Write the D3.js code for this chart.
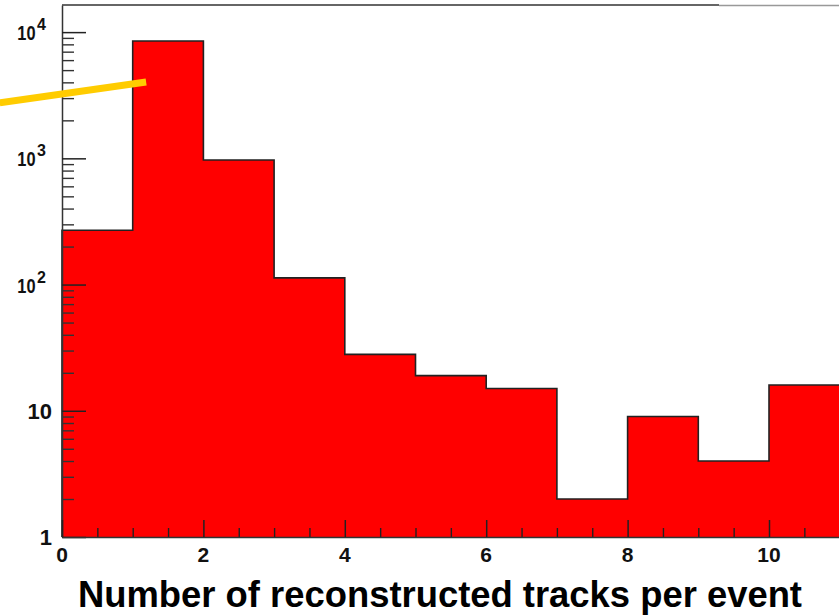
<!DOCTYPE html>
<html>
<head>
<meta charset="utf-8">
<script src="https://cdn.jsdelivr.net/npm/d3@7"></script>
<style>
  body { margin: 0; background: #fff; }
  text { font-family: "Liberation Sans", Arial, sans-serif; font-weight: bold; }
</style>
</head>
<body>
<script>
// histogram bins (lower edges) and counts
const binEdges = [0, 1, 2, 3, 4, 5, 6, 7, 8, 9, 10, 11];
const counts = [269, 8510, 971, 113, 28, 19, 15, 2, 9, 4, 16];
const xMajorTicks = [0, 2, 4, 6, 8, 10];
const yDecades = [1, 10, 100, 1000, 10000];
const yLabels = ['1', '10', '10|2', '10|3', '10|4'];
// yellow pointer drawn over the plot (data units)
const pointerX = [-0.88, 1.19];
const pointerY = [2750, 4030];

const W = 839, H = 615;
const mLeft = 62, mRight = 839.7, mTop = 5, mBottom = 537;

const x = d3.scaleLinear().domain([0, 11]).range([mLeft, mRight]);
const y = d3.scaleLog().domain([1, 16400]).range([mBottom, mTop]);

const svg = d3.select('body').append('svg')
  .attr('width', W).attr('height', H);

// filled histogram
const pts = counts.map((c, i) => ({ x: binEdges[i], c }));
pts.push({ x: binEdges[binEdges.length - 1], c: counts[counts.length - 1] });

const area = d3.area()
  .curve(d3.curveStepAfter)
  .x(d => x(d.x))
  .y0(y(1))
  .y1(d => y(d.c));

svg.append('path')
  .datum(pts)
  .attr('d', area)
  .attr('fill', '#ff0000');

// outline of histogram
const outline = [{ x: 0, c: 1 }].concat(pts);
svg.append('path')
  .datum(outline)
  .attr('d', d3.line().curve(d3.curveStepAfter).x(d => x(d.x)).y(d => y(d.c)))
  .attr('fill', 'none')
  .attr('stroke', '#222')
  .attr('stroke-width', 1.6);

// frame top
svg.append('line')
  .attr('x1', mLeft).attr('x2', 719).attr('y1', mTop).attr('y2', mTop)
  .attr('stroke', '#333').attr('stroke-width', 1.5);
svg.append('line')
  .attr('x1', 719).attr('x2', W).attr('y1', mTop + 0.5).attr('y2', mTop + 0.5)
  .attr('stroke', '#999').attr('stroke-width', 1.5);

// y axis: minor ticks
const minor = [];
yDecades.slice(0, -1).forEach(d => {
  for (let k = 2; k <= 9; k++) minor.push(d * k);
});
svg.append('g')
  .attr('transform', `translate(${mLeft},0)`)
  .call(d3.axisLeft(y).tickValues(minor).tickSize(-12).tickFormat(''))
  .call(g => g.select('.domain').remove())
  .selectAll('line').attr('stroke', '#333').attr('stroke-width', 1.4);

// y axis: major ticks and line
const yAxis = svg.append('g')
  .attr('transform', `translate(${mLeft},0)`)
  .call(d3.axisLeft(y).tickValues(yDecades).tickSize(-24).tickSizeOuter(0).tickFormat(''));
yAxis.select('.domain').attr('stroke', '#333').attr('stroke-width', 1.5);
yAxis.selectAll('line').attr('stroke', '#222').attr('stroke-width', 1.5);

// y labels, powers drawn as a narrowed base plus superscript
yDecades.forEach((v, i) => {
  const [base, exp] = yLabels[i].split('|');
  if (!exp) {
    svg.append('text')
      .attr('x', 52)
      .attr('y', y(v) + 8)
      .attr('text-anchor', 'end')
      .attr('font-size', 22)
      .attr('fill', '#111')
      .text(base);
  } else {
    svg.append('text')
      .attr('transform', `translate(35.5,${y(v) + 8}) scale(0.78,1)`)
      .attr('text-anchor', 'end')
      .attr('font-size', 21)
      .attr('fill', '#111')
      .text(base);
    svg.append('text')
      .attr('x', 37)
      .attr('y', y(v) - 2)
      .attr('font-size', 16)
      .attr('fill', '#111')
      .text(exp);
  }
});

// x axis: minor ticks
const xMinor = d3.range(0, 11.01, 0.5).filter(v => v % 2 !== 0);
svg.append('g')
  .attr('transform', `translate(0,${mBottom})`)
  .call(d3.axisBottom(x).tickValues(xMinor).tickSize(-9).tickFormat(''))
  .call(g => g.select('.domain').remove())
  .selectAll('line').attr('stroke', '#222').attr('stroke-width', 1.4);

// x axis: major ticks
const xAxis = svg.append('g')
  .attr('transform', `translate(0,${mBottom})`)
  .call(d3.axisBottom(x).tickValues(xMajorTicks).tickSize(-17).tickSizeOuter(0).tickFormat(''));
xAxis.select('.domain').attr('stroke', '#333').attr('stroke-width', 1.5);
xAxis.selectAll('line').attr('stroke', '#222').attr('stroke-width', 1.5);

svg.selectAll('.xlab')
  .data(xMajorTicks)
  .enter().append('text')
  .attr('class', 'xlab')
  .attr('x', d => x(d))
  .attr('y', 562)
  .attr('text-anchor', 'middle')
  .attr('font-size', 21)
  .attr('fill', '#111')
  .text(d => d);

// axis title
svg.append('text')
  .attr('x', 802)
  .attr('y', 607)
  .attr('text-anchor', 'end')
  .attr('font-size', 36.4)
  .attr('fill', '#000')
  .text('Number of reconstructed tracks per event');

// yellow pointer
svg.append('line')
  .attr('x1', x(pointerX[0])).attr('y1', y(pointerY[0]))
  .attr('x2', x(pointerX[1])).attr('y2', y(pointerY[1]))
  .attr('stroke', '#ffcc00')
  .attr('stroke-width', 7);
</script>
</body>
</html>
